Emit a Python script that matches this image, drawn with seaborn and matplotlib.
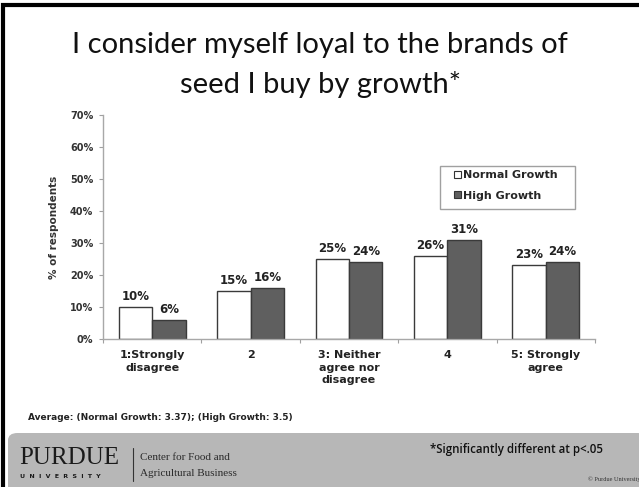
import matplotlib
matplotlib.use("Agg")
import matplotlib.pyplot as plt
from matplotlib.patches import FancyBboxPatch, Rectangle
from matplotlib.ticker import FixedLocator, PercentFormatter
import pandas as pd
import seaborn as sns

# Survey responses by growth group
categories = ["1:Strongly\ndisagree", "2", "3: Neither\nagree nor\ndisagree", "4", "5: Strongly\nagree"]
normal_growth = [10, 15, 25, 26, 23]
high_growth = [6, 16, 24, 31, 24]
series_names = ["Normal Growth", "High Growth"]
y_ticks = [0, 10, 20, 30, 40, 50, 60, 70]

df = pd.DataFrame({
    "category": categories * 2,
    "value": normal_growth + high_growth,
    "group": [series_names[0]] * len(categories) + [series_names[1]] * len(categories),
})

sns.set_theme(style="white")
plt.rcParams["font.family"] = ["DejaVu Sans"]

W, H = 639, 487
fig = plt.figure(figsize=(W / 100, H / 100), dpi=100)
fig.patch.set_facecolor("white")

# slide frame
fig.add_artist(Rectangle((3 / W, -0.05), 1.05, 1 - 5 / H + 0.05, transform=fig.transFigure,
                         fill=False, edgecolor="black", linewidth=3))

# footer band
fig.add_artist(FancyBboxPatch((8 / W, -0.05), 1.0, (487 - 433) / H + 0.05,
                              boxstyle="round,pad=0,rounding_size=0.015",
                              transform=fig.transFigure, facecolor="#b7b7b7",
                              edgecolor="none"))

ax = fig.add_axes([103 / W, 1 - 339 / H, (595 - 103) / W, (339 - 115) / H])

palette = {series_names[0]: "white", series_names[1]: "#5f5f5f"}
sns.barplot(data=df, x="category", y="value", hue="group", palette=palette,
            width=0.68, gap=0, edgecolor="#3a3a3a", linewidth=1.0, ax=ax,
            legend=True)

ax.set_ylim(0, 70)
ax.set_xlim(-0.5, len(categories) - 0.5)
ax.yaxis.set_major_locator(FixedLocator(y_ticks))
ax.yaxis.set_major_formatter(PercentFormatter(decimals=0))
ax.set_xlabel("")
ax.set_ylabel("% of respondents", fontsize=7.5, fontweight="bold", color="#333333", labelpad=8)

for lbl in ax.get_yticklabels():
    lbl.set_fontsize(7)
    lbl.set_fontweight("bold")
    lbl.set_color("#333333")
for lbl in ax.get_xticklabels():
    lbl.set_fontsize(8)
    lbl.set_fontweight("bold")
    lbl.set_color("#222222")
    lbl.set_verticalalignment("top")
    lbl.set_linespacing(1.3)

ax.tick_params(axis="y", which="major", length=3, width=0.8, color="#a0a0a0", pad=4, left=True)
ax.tick_params(axis="x", which="major", length=0, pad=8)
ax.xaxis.set_minor_locator(FixedLocator([i + 0.5 for i in range(-1, len(categories))]))
ax.tick_params(axis="x", which="minor", length=3, width=0.8, color="#a0a0a0", bottom=True)

for side in ["top", "right"]:
    ax.spines[side].set_visible(False)
for side in ["left", "bottom"]:
    ax.spines[side].set_color("#a8a8a8")
    ax.spines[side].set_linewidth(1.0)

for cont in ax.containers:
    ax.bar_label(cont, fmt="%.0f%%", fontsize=8.5, fontweight="bold", color="#222222", padding=3)

# legend with its own frame
fig.add_artist(Rectangle((440 / W, 1 - 209 / H), (575 - 440) / W, (209 - 166) / H,
                         transform=fig.transFigure, fill=False,
                         edgecolor="#a0a0a0", linewidth=1.0))
leg = ax.legend(loc="upper left", bbox_to_anchor=(452 / W, 1 - 168 / H),
                bbox_transform=fig.transFigure, frameon=False,
                prop={"weight": "bold", "size": 8}, handlelength=0.6,
                handleheight=0.6, handletextpad=0.2, borderpad=0.2,
                labelspacing=0.95, borderaxespad=0)
for h in leg.legend_handles:
    h.set_edgecolor("#333333")
    h.set_linewidth(0.8)

# title
fig.text(320 / W, 1 - 45 / H, "I consider myself loyal to the brands of",
         ha="center", va="center", fontsize=21, family="Lato", color="#111111")
fig.text(320 / W, 1 - 85 / H, "seed I buy by growth*",
         ha="center", va="center", fontsize=21, family="Lato", color="#111111")

fig.text(28 / W, 1 - 418 / H, "Average: (Normal Growth: 3.37); (High Growth: 3.5)",
         ha="left", va="center", fontsize=6.5, fontweight="bold", color="#222222")

# footer
fig.text(19 / W, 1 - 458 / H, "PURDUE", ha="left", va="center", fontsize=18,
         family="Liberation Serif", color="#1a1a1a")
fig.text(20 / W, 1 - 477 / H, "U  N  I  V  E  R  S  I  T  Y", ha="left", va="center",
         fontsize=4.5, fontweight="bold", family="DejaVu Sans", color="#1a1a1a")
fig.add_artist(plt.Line2D([133 / W, 133 / W], [1 - 448 / H, 1 - 481 / H],
                          transform=fig.transFigure, color="#333333", linewidth=0.8))
fig.text(140 / W, 1 - 458 / H, "Center for Food and", ha="left", va="center",
         fontsize=8, family="Liberation Serif", color="#2a2a2a")
fig.text(140 / W, 1 - 473 / H, "Agricultural Business", ha="left", va="center",
         fontsize=8, family="Liberation Serif", color="#2a2a2a")
fig.text(430 / W, 1 - 449 / H, "*Significantly different at p<.05", ha="left", va="center",
         fontsize=8.3, fontweight="semibold", family="Open Sans", color="#111111")
fig.text(588 / W, 1 - 479 / H, "© Purdue University", ha="left", va="center",
         fontsize=4.5, family="Liberation Serif", color="#333333")

fig.savefig("out.png", dpi=100)
